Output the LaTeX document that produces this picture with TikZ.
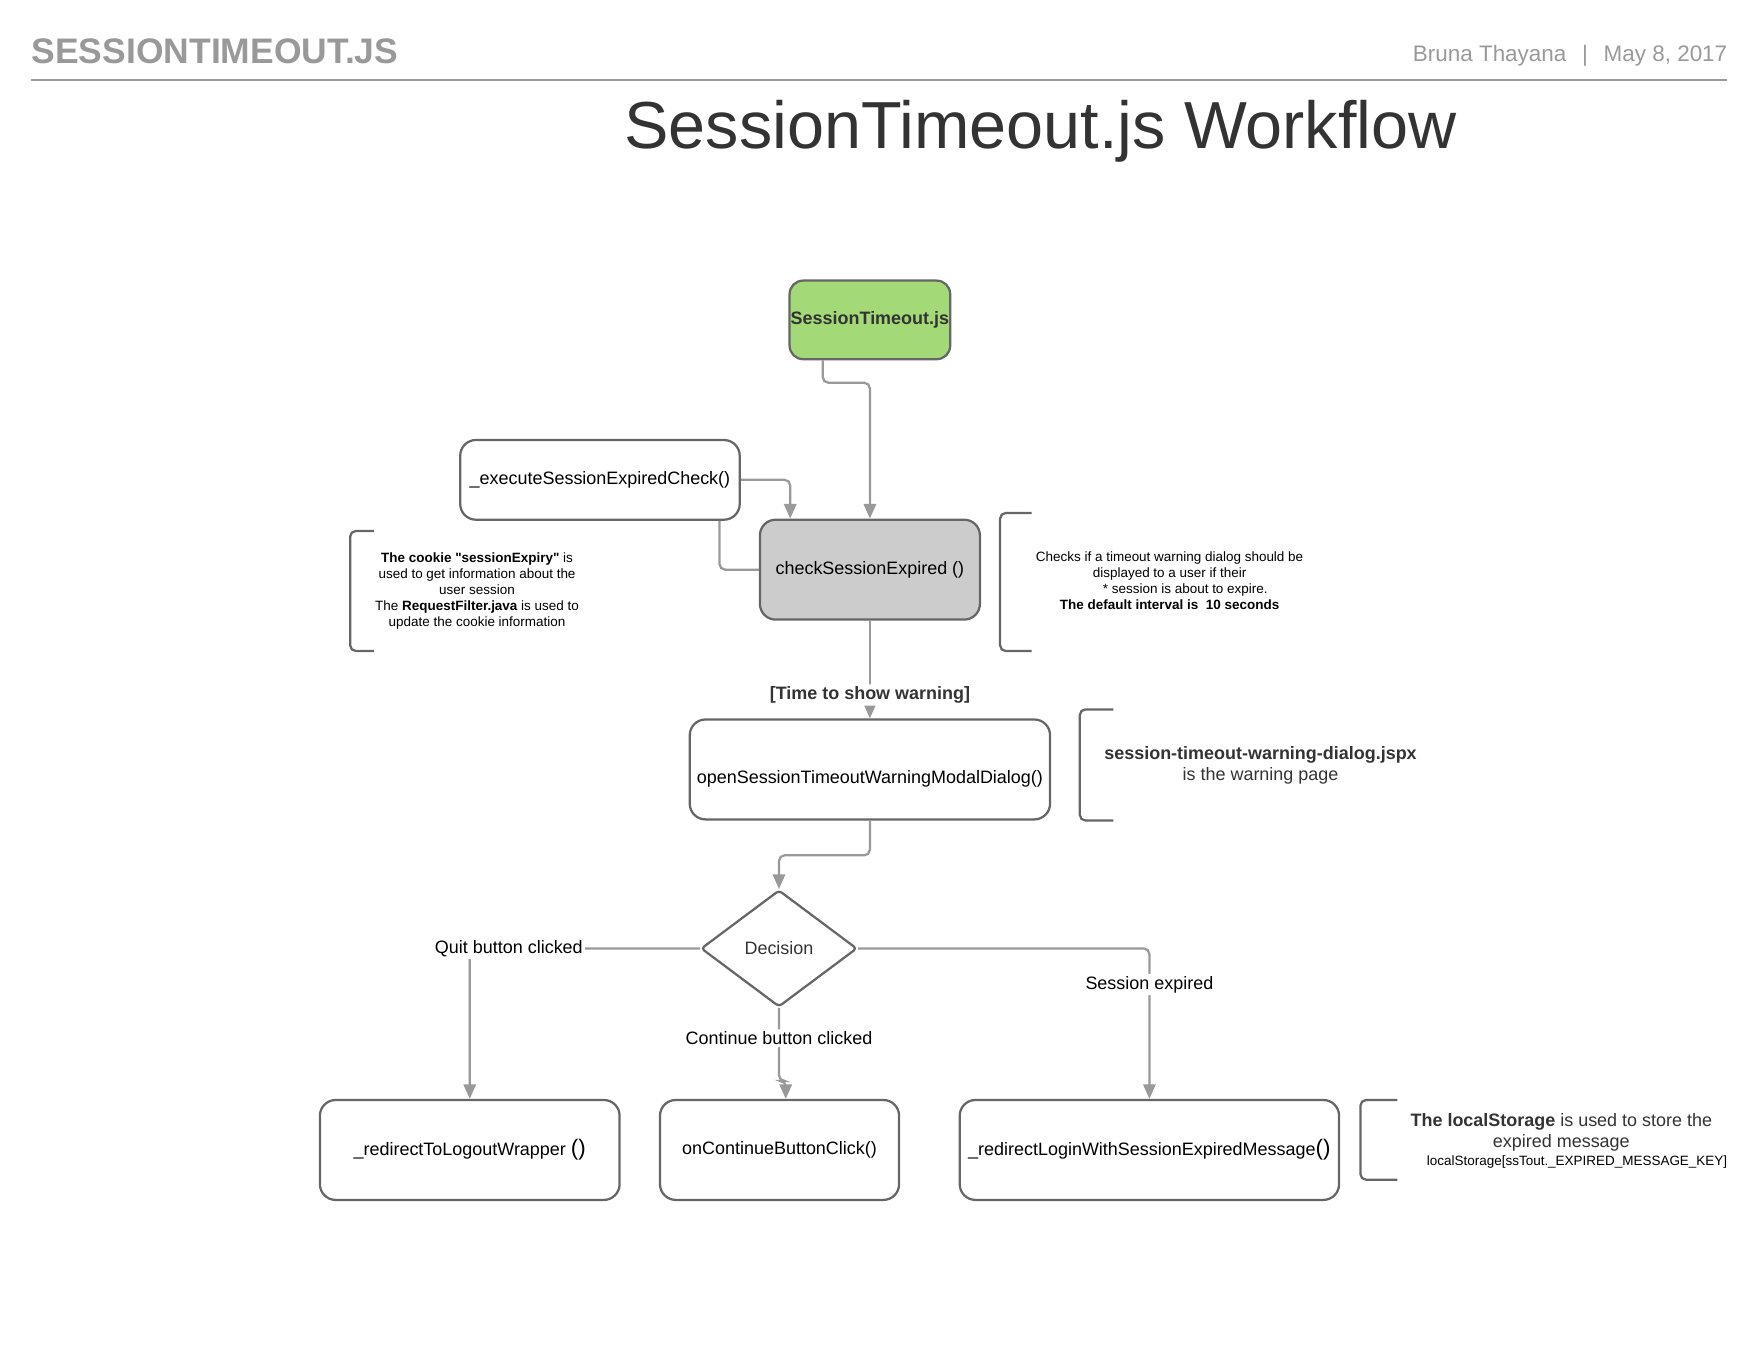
\documentclass[tikz,border=0pt]{standalone}
\usepackage{fontspec}
\setmainfont{Liberation Sans}
\usetikzlibrary{arrows.meta,shapes.geometric}
\definecolor{linegray}{HTML}{999999}
\definecolor{boxgray}{HTML}{666666}
\definecolor{textgray}{HTML}{333333}
\definecolor{startgreen}{HTML}{A3D977}
\definecolor{checkgray}{HTML}{CCCCCC}

\begin{document}
\begin{tikzpicture}[x=1pt, y=-1pt,
	box/.style={draw=boxgray, line width=2pt, rounded corners=14pt, minimum height=89pt, align=center, inner xsep=2pt, font=\fontsize{16}{19}\selectfont},
	flow/.style={draw=linegray, line width=2pt, rounded corners=5pt, -{Triangle[width=11pt,length=13pt]}},
	link/.style={draw=linegray, line width=2pt, rounded corners=5pt},
	bracket/.style={draw=boxgray, line width=2pt, rounded corners=5pt},
	note/.style={align=center, font=\fontsize{12}{14.3}\selectfont},
	lbl/.style={fill=white, inner sep=2pt, font=\fontsize{16}{19}\selectfont}]
	\newcommand{\BIGPAR}[1]{{\fontsize{20}{19}\selectfont #1}}
	\useasboundingbox (0,0) rectangle (1568,1211.6);
	\node[anchor=base west, inner sep=0pt, text=linegray, font=\fontsize{31.6}{32}\selectfont\bfseries] (Head) at (28,57) {SESSIONTIMEOUT.JS};
	\node[anchor=base east, inner sep=0pt, text=linegray, font=\fontsize{20}{20}\selectfont] (Byline) at (1539,55) {Bruna Thayana\hspace{14pt}|\hspace{14pt}May 8, 2017};
	\draw[draw=linegray, line width=2pt] (28,71) -- (1539,71);
	\node[anchor=base, inner sep=0pt, text=textgray, font=\fontsize{59.3}{60}\selectfont] (Title) at (927,132) {SessionTimeout.js Workflow};
	\node[box, fill=startgreen, rounded corners=12pt, minimum width=142pt, minimum height=70pt, inner xsep=1pt, text=textgray, font=\fontsize{16}{19}\selectfont\bfseries] (Start) at (775,285) {SessionTimeout.js};
	\node[box, minimum width=249pt, minimum height=71pt] (Exec) at (534.5,427.5) {\_executeSessionExpiredCheck()};
	\node[box, fill=checkgray, minimum width=196pt] (Check) at (775,507.5) {checkSessionExpired ()};
	\node[box, minimum width=321pt] (Open) at (775,685.5) {\raisebox{-12.5pt}[0pt][0pt]{openSessionTimeoutWarningModalDialog()}};
	\node[draw=boxgray, line width=2pt, diamond, aspect=1.34, rounded corners=3pt, minimum width=139pt, minimum height=104pt, inner sep=0pt, text=textgray, font=\fontsize{16}{19}\selectfont] (Dec) at (694,845) {Decision};
	\node[box, minimum width=267pt] (Logout) at (418.5,1024.5) {\_redirectToLogoutWrapper \BIGPAR{()}};
	\node[box, minimum width=213pt] (Cont) at (694.5,1024.5) {onContinueButtonClick()};
	\node[box, minimum width=338pt] (Expired) at (1024,1024.5) {\_redirectLoginWithSessionExpiredMessage\BIGPAR{()}};
	\draw[flow] ([xshift=-42pt]Start.south) -- ++(0,20) -| (Check.north);
	\draw[flow] (Exec.east) -| ([xshift=-71pt]Check.north);
	\draw[link] ([xshift=106.5pt]Exec.south) |- (Check.west);
	\draw[flow] (Check.south) -- node[lbl, pos=0.76, text=textgray, font=\fontsize{16}{19}\selectfont\bfseries]{[Time to show warning]} (Open.north);
	\draw[flow] (Open.south) -- ++(0,31) -| (Dec.north);
	\draw[flow] (Dec.west) -| node[lbl, pos=0.415]{Quit button clicked} (Logout.north);
	\draw[flow] (Dec.south) -- node[lbl, pos=0.415]{Continue button clicked} ++(0,65) -| ([xshift=5.5pt]Cont.north);
	\draw[flow] (Dec.east) -| node[lbl, pos=0.62]{Session expired} (Expired.north);
	\draw[bracket] (333,473) -- (312,473) -- (312,580) -- (333,580);
	\node[note] (CookieNote) at (425,526.5) {{\bfseries The cookie \textquotedbl sessionExpiry\textquotedbl} is\\ used to get information about the\\ user session\\ The {\bfseries RequestFilter.java} is used to\\ update the cookie information};
	\draw[bracket] (919,457) -- (891,457) -- (891,580) -- (919,580);
	\node[note] (CheckNote) at (1042,517.5) {Checks if a timeout warning dialog should be\\ displayed to a user if their\\ \hspace*{28pt}* session is about to expire.\\ {\bfseries The default interval is\ \ 10 seconds}};
	\draw[bracket] (992,632) -- (962,632) -- (962,731) -- (992,731);
	\node[note, text=textgray, font=\fontsize{16}{19}\selectfont] (PageNote) at (1123,682) {{\bfseries session-timeout-warning-dialog.jspx}\\ is the warning page};
	\draw[bracket] (1245,980) -- (1212,980) -- (1212,1051) -- (1245,1051);
	\node[note, text=textgray, font=\fontsize{16}{19}\selectfont] (StoreNote) at (1391,1016.5) {{\bfseries The localStorage} is used to store the\\ expired message\\[-3pt] {\fontsize{12}{14}\selectfont\color{black}\hspace*{28pt}localStorage[ssTout.\_EXPIRED\_MESSAGE\_KEY]}};
\end{tikzpicture}
\end{document}
